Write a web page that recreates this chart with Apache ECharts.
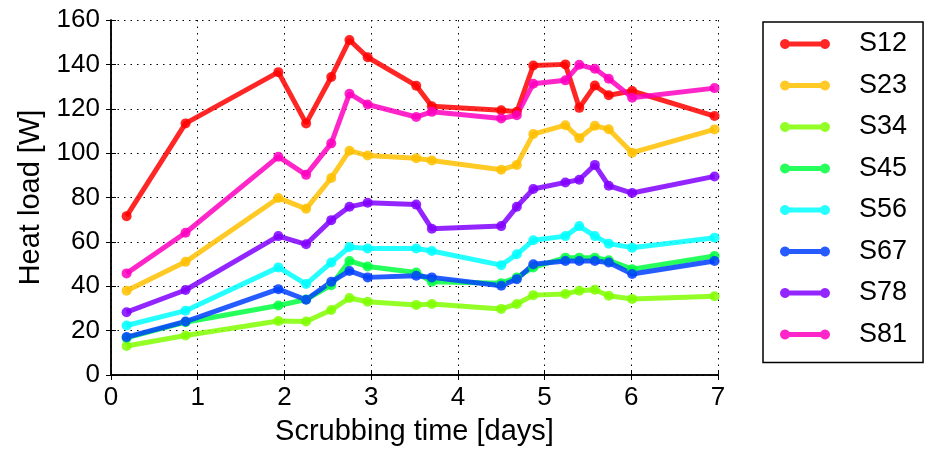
<!DOCTYPE html>
<html>
<head>
<meta charset="utf-8">
<script src="https://cdn.jsdelivr.net/npm/echarts@6/dist/echarts.min.js"></script>
<style>
html,body{margin:0;padding:0;background:#fff;}
#c{width:926px;height:451px;}
</style>
</head>
<body>
<div id="c"></div>
<script>
const days = [0.18, 0.86, 1.93, 2.25, 2.54, 2.75, 2.96, 3.52, 3.70, 4.50, 4.68, 4.87, 5.24, 5.40, 5.58, 5.74, 6.01, 6.96];
const seriesNames = ['S12', 'S23', 'S34', 'S45', 'S56', 'S67', 'S78', 'S81'];
const s12 = [71.6, 113.4, 136.5, 113.4, 134.3, 151, 143.2, 130.4, 121.1, 119.3, 118.6, 139.5, 140, 120.4, 130.5, 126.1, 128, 116.7];
const s23 = [38, 51, 79.8, 74.9, 88.8, 101.1, 98.9, 97.7, 96.7, 92.5, 94.7, 108.6, 112.6, 106.7, 112.3, 110.8, 100.2, 110.7];
const s34 = [13.1, 17.8, 24.3, 24.1, 29.3, 34.7, 33, 31.6, 32, 29.8, 32, 36, 36.5, 38, 38.4, 35.7, 34.3, 35.5];
const s45 = [16.7, 23.8, 31.3, 34, 40.5, 51.4, 48.9, 46.2, 42, 41.4, 44, 48.5, 52.9, 52.9, 52.9, 51.7, 47.7, 53.6];
const s56 = [22.3, 29, 48.5, 41, 50.7, 57.7, 57, 57, 55.9, 49.5, 54.4, 60.7, 62.6, 67.1, 62.6, 59.2, 57.4, 61.9];
const s67 = [17.1, 24.1, 38.7, 33.9, 42, 46.9, 44, 44.7, 44, 40.2, 43.2, 49.9, 51.4, 51.4, 51.4, 50.7, 45.5, 51.4];
const s78 = [28.3, 38.3, 62.6, 58.9, 69.8, 75.8, 77.6, 76.8, 65.9, 67.1, 75.8, 83.8, 86.8, 88, 94.7, 85.3, 82, 89.5];
const s81 = [45.8, 64.1, 98.4, 90.2, 104.4, 126.8, 121.9, 116.3, 118.6, 115.6, 117.1, 131.3, 132.8, 139.8, 138, 133.5, 125, 129.3];
const allValues = [s12, s23, s34, s45, s56, s67, s78, s81];
const colors = ['#ff0000', '#ffbf00', '#80ff00', '#00ff40', '#00ffff', '#0040ff', '#8000ff', '#ff00bf'];
const xTicks = [0, 1, 2, 3, 4, 5, 6, 7];
const yTicks = [0, 20, 40, 60, 80, 100, 120, 140, 160];

const FONT = '"Liberation Sans", Arial, Helvetica, sans-serif';
const chart = echarts.init(document.getElementById('c'), null, {renderer: 'canvas'});

const legendIcon = 'path://M9.33,2.5L40.67,2.5A5,5 0 1,1 40.67,7.5L9.33,7.5A5,5 0 1,1 9.33,2.5Z';

const series = seriesNames.map((name, i) => ({
  name: name,
  type: 'line',
  data: days.map((d, j) => [d, allValues[i][j]]),
  symbol: 'circle',
  symbolSize: 10,
  showSymbol: true,
  color: colors[i],
  lineStyle: {width: 5, color: colors[i], opacity: 0.85},
  itemStyle: {color: colors[i], opacity: 0.85},
  emphasis: {disabled: true},
  animation: false,
  z: 3
}));

const axisCommonLine = {show: true, lineStyle: {color: '#000', width: 1.5}};
const tickIn = {show: true, inside: true, length: 5, lineStyle: {color: '#000', width: 1}};
const grid = {left: 111, right: 208, top: 20, bottom: 75, containLabel: false};

chart.setOption({
  backgroundColor: '#fff',
  animation: false,
  textStyle: {fontFamily: FONT},
  grid: grid,
  legend: {
    orient: 'vertical',
    left: 763,
    top: 22,
    data: seriesNames.map((n, i) => ({name: n, icon: legendIcon, itemStyle: {color: colors[i], opacity: 0.85, borderWidth: 0}})),
    itemWidth: 50,
    itemHeight: 10,
    itemGap: 11.5,
    symbolKeepAspect: false,
    padding: [7, 16, 13, 17],
    borderColor: '#000',
    borderWidth: 1.5,
    textStyle: {fontSize: 27, color: '#000', fontFamily: FONT, lineHeight: 30, padding: [0, 0, 0, 24]},
    selectedMode: false
  },
  xAxis: [{
    type: 'value', min: xTicks[0], max: xTicks[xTicks.length - 1], interval: 1,
    position: 'bottom',
    axisLine: axisCommonLine, axisTick: tickIn,
    axisLabel: {fontSize: 26, color: '#000', margin: 10, fontFamily: FONT},
    splitLine: {show: true, lineStyle: {color: '#000', width: 1, type: [1.5, 5]}},
    name: 'Scrubbing time [days]', nameLocation: 'middle', nameGap: 42,
    nameTextStyle: {fontSize: 29, color: '#000', fontFamily: FONT}
  }, {
    type: 'value', min: xTicks[0], max: xTicks[xTicks.length - 1], interval: 1,
    position: 'top',
    axisLine: axisCommonLine, axisTick: tickIn, axisLabel: {show: false}, splitLine: {show: false}
  }],
  yAxis: [{
    type: 'value', min: yTicks[0], max: yTicks[yTicks.length - 1], interval: 20,
    position: 'left',
    axisLine: axisCommonLine, axisTick: tickIn,
    axisLabel: {fontSize: 26, color: '#000', margin: 11, fontFamily: FONT},
    splitLine: {show: true, lineStyle: {color: '#000', width: 1, type: [1.5, 5]}},
    name: 'Heat load [W]', nameLocation: 'middle', nameGap: 64,
    nameTextStyle: {fontSize: 29, color: '#000', fontFamily: FONT}
  }, {
    type: 'value', min: yTicks[0], max: yTicks[yTicks.length - 1], interval: 20,
    position: 'right',
    axisLine: axisCommonLine, axisTick: tickIn, axisLabel: {show: false}, splitLine: {show: false}
  }],
  series: series
});
</script>
</body>
</html>
